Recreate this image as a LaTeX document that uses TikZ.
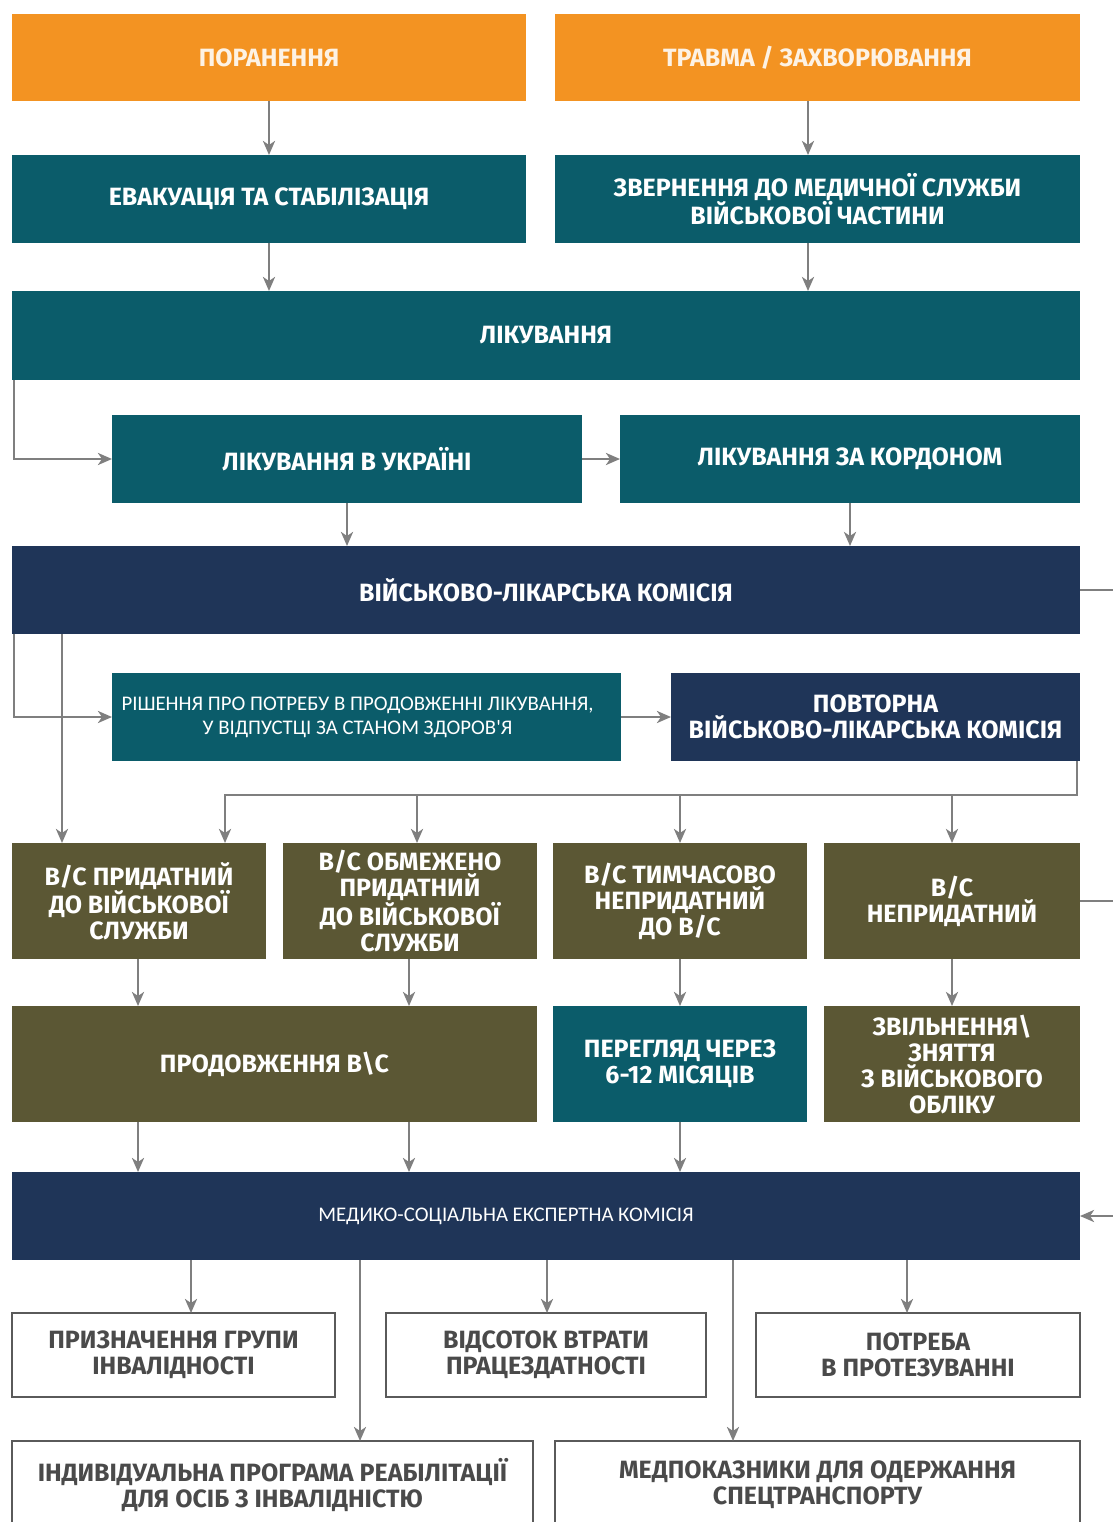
\documentclass[tikz,border=0pt]{standalone}
\usepackage{fontspec}
\newfontfamily\hd{Fira Sans}
\newfontfamily\sm{Carlito}
\usetikzlibrary{arrows.meta}
\definecolor{corange}{HTML}{F39322}
\definecolor{cteal}{HTML}{0B5C6A}
\definecolor{cnavy}{HTML}{1F3558}
\definecolor{colive}{HTML}{5B5734}
\definecolor{cline}{HTML}{7F7F7F}
\definecolor{cborder}{HTML}{5A5A5A}
\definecolor{cgtext}{HTML}{4A4A4A}
\tikzset{
  box/.style={rectangle, inner sep=0pt, outer sep=0pt, align=center,
    font=\hd\bfseries\fontsize{25}{26}\selectfont, text=white},
  obox/.style={box, fill=corange, text=white!88!corange},
  tbox/.style={box, fill=cteal},
  nbox/.style={box, fill=cnavy},
  lbox/.style={box, fill=colive},
  wbox/.style={box, fill=white, draw=cborder, line width=2pt, text=cgtext},
  small/.style={font=\sm\fontsize{20.8}{24}\selectfont},
  arr/.style={draw=cline, line width=2.5pt, -{Stealth[length=14pt,width=12pt,inset=4pt]}},
  ln/.style={draw=cline, line width=2.5pt},
}
\begin{document}
\begin{tikzpicture}[x=1pt,y=-1pt]
\fill[white] (0,0) rectangle (1112,1522);
\useasboundingbox (0,0) rectangle (1112,1522);

% nodes
\node[obox, minimum width=514, minimum height=87] (pora) at (269,57.5) {ПОРАНЕННЯ};
\node[obox, minimum width=525, minimum height=87] (trav) at (817.5,57.5) {ТРАВМА / ЗАХВОРЮВАННЯ};
\node[tbox, minimum width=514, minimum height=88] (evak) at (269,199) {ЕВАКУАЦІЯ ТА СТАБІЛІЗАЦІЯ};
\node[tbox, minimum width=525, minimum height=88] (zvern) at (817.5,199) {ЗВЕРНЕННЯ ДО МЕДИЧНОЇ СЛУЖБИ\\ВІЙСЬКОВОЇ ЧАСТИНИ};
\node[tbox, minimum width=1068, minimum height=89] (likuv) at (546,335.5) {ЛІКУВАННЯ};
\node[tbox, minimum width=470, minimum height=88] (ukr) at (347,459) {ЛІКУВАННЯ В УКРАЇНІ};
\node[tbox, minimum width=460, minimum height=88] (kord) at (850,459) {ЛІКУВАННЯ ЗА КОРДОНОМ};
\node[nbox, minimum width=1068, minimum height=88] (vlk) at (546,590) {ВІЙСЬКОВО-ЛІКАРСЬКА КОМІСІЯ};
\node[tbox, small, minimum width=509, minimum height=88] (rish) at (366.5,717) {\hspace*{-18pt}РІШЕННЯ ПРО ПОТРЕБУ В ПРОДОВЖЕННІ ЛІКУВАННЯ,\\\hspace*{-18pt}У ВІДПУСТЦІ ЗА СТАНОМ ЗДОРОВ'Я};
\node[nbox, minimum width=409, minimum height=88] (povt) at (875.5,717) {ПОВТОРНА\\ВІЙСЬКОВО-ЛІКАРСЬКА КОМІСІЯ};
\node[lbox, minimum width=254, minimum height=116] (prid) at (139,901) {В/С ПРИДАТНИЙ\\ДО ВІЙСЬКОВОЇ\\СЛУЖБИ};
\node[lbox, minimum width=254, minimum height=116] (obm) at (410,901) {В/С ОБМЕЖЕНО\\ПРИДАТНИЙ\\ДО ВІЙСЬКОВОЇ\\СЛУЖБИ};
\node[lbox, minimum width=254, minimum height=116] (tymch) at (680,901) {В/С ТИМЧАСОВО\\НЕПРИДАТНИЙ\\ДО В/С};
\node[lbox, minimum width=256, minimum height=116] (nepr) at (952,901) {В/С\\НЕПРИДАТНИЙ};
\node[lbox, minimum width=525, minimum height=116] (prod) at (274.5,1064) {ПРОДОВЖЕННЯ В\textbackslash С};
\node[tbox, minimum width=254, minimum height=116] (perehl) at (680,1064) {ПЕРЕГЛЯД ЧЕРЕЗ\\6-12 МІСЯЦІВ};
\node[lbox, minimum width=256, minimum height=116] (zviln) at (952,1064) {ЗВІЛЬНЕННЯ\textbackslash\\ЗНЯТТЯ\\З ВІЙСЬКОВОГО\\ОБЛІКУ};
\node[nbox, small, minimum width=1068, minimum height=88] (msek) at (546,1216) {\hspace*{-80pt}МЕДИКО-СОЦІАЛЬНА ЕКСПЕРТНА КОМІСІЯ};
\node[wbox, minimum width=323, minimum height=84] (grupa) at (173.5,1355) {ПРИЗНАЧЕННЯ ГРУПИ\\ІНВАЛІДНОСТІ};
\node[wbox, minimum width=320, minimum height=84] (vidsot) at (546,1355) {ВІДСОТОК ВТРАТИ\\ПРАЦЕЗДАТНОСТІ};
\node[wbox, minimum width=324, minimum height=84] (protez) at (918,1355) {ПОТРЕБА\\В ПРОТЕЗУВАННІ};
\node[wbox, minimum width=521, minimum height=88] (ipr) at (272.5,1485) {ІНДИВІДУАЛЬНА ПРОГРАМА РЕАБІЛІТАЦІЇ\\ДЛЯ ОСІБ З ІНВАЛІДНІСТЮ};
\node[wbox, minimum width=525, minimum height=88] (medp) at (817.5,1485) {МЕДПОКАЗНИКИ ДЛЯ ОДЕРЖАННЯ\\СПЕЦТРАНСПОРТУ};

% helper coordinates
\coordinate (x14) at (14,0);
\coordinate (x62) at (62,0);
\coordinate (x138) at (138,0);
\coordinate (x191) at (191,0);
\coordinate (x225) at (225,0);
\coordinate (x360) at (360,0);
\coordinate (x409) at (409,0);
\coordinate (x417) at (417,0);
\coordinate (x547) at (547,0);
\coordinate (x680) at (680,0);
\coordinate (x733) at (733,0);
\coordinate (x808) at (808,0);
\coordinate (x907) at (907,0);
\coordinate (x952) at (952,0);
\coordinate (x1077) at (1077,0);
\coordinate (xr) at (1130,0);
\coordinate (bus) at (0,795);

% connectors
\draw[arr] (pora) -- (evak);
\draw[arr] (trav.south -| x808) -- (zvern.north -| x808);
\draw[arr] (evak) -- (evak |- likuv.north);
\draw[arr] (zvern.south -| x808) -- (likuv.north -| x808);
\draw[arr] (likuv.south -| x14) |- (ukr.west);
\draw[arr] (ukr) -- (kord);
\draw[arr] (ukr) -- (ukr |- vlk.north);
\draw[arr] (kord) -- (kord |- vlk.north);
\draw[arr] (vlk.south -| x14) |- (rish.west);
\draw[arr] (vlk.south -| x62) -- (prid.north -| x62);
\draw[arr] (rish) -- (povt);
\draw[arr] (povt.south -| x1077) |- (x225 |- bus) -- (prid.north -| x225);
\draw[arr] (x417 |- bus) -- (obm.north -| x417);
\draw[arr] (x680 |- bus) -- (tymch.north -| x680);
\draw[arr] (x952 |- bus) -- (nepr.north -| x952);
\draw[arr] (prid.south -| x138) -- (prod.north -| x138);
\draw[arr] (obm.south -| x409) -- (prod.north -| x409);
\draw[arr] (tymch) -- (perehl);
\draw[arr] (nepr) -- (zviln);
\draw[arr] (prod.south -| x138) -- (msek.north -| x138);
\draw[arr] (prod.south -| x409) -- (msek.north -| x409);
\draw[arr] (perehl.south -| x680) -- (msek.north -| x680);
\draw[arr] (vlk.east) -- (vlk.east -| xr) |- (msek.east);
\draw[ln] (nepr.east) -- (nepr.east -| xr);
\draw[arr] (msek.south -| x191) -- (grupa.north -| x191);
\draw[arr] (msek.south -| x547) -- (vidsot.north -| x547);
\draw[arr] (msek.south -| x907) -- (protez.north -| x907);
\draw[arr] (msek.south -| x360) -- (ipr.north -| x360);
\draw[arr] (msek.south -| x733) -- (medp.north -| x733);
\end{tikzpicture}
\end{document}
